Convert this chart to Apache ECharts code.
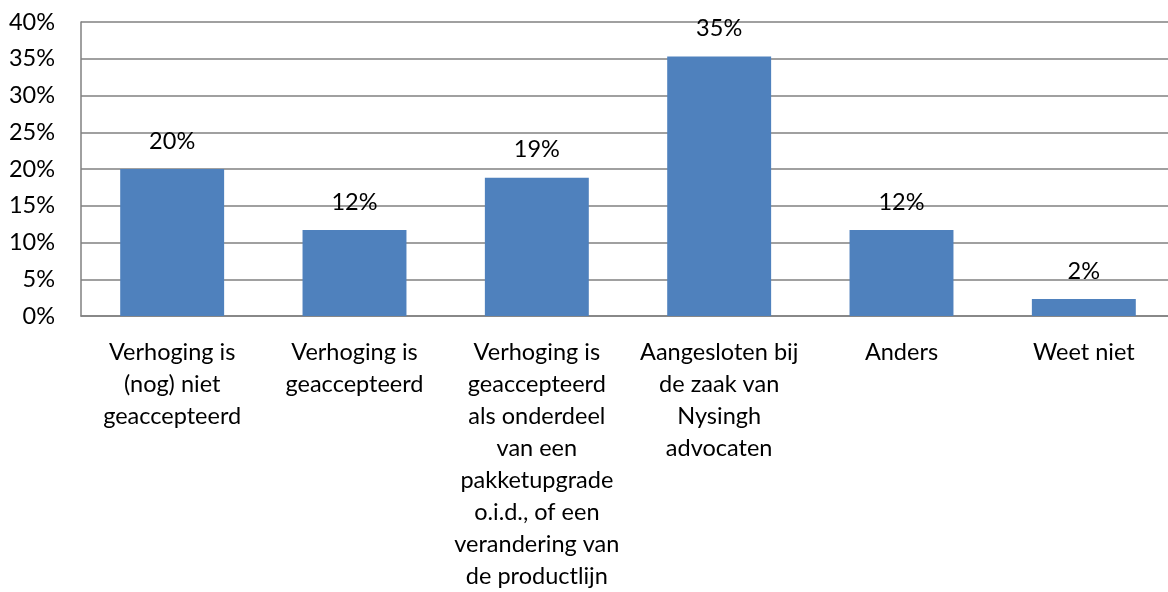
<!DOCTYPE html>
<html>
<head>
<meta charset="utf-8">
<script src="https://cdn.jsdelivr.net/npm/echarts@6/dist/echarts.min.js"></script>
<style>
  html, body { margin: 0; padding: 0; background: #fff; }
  #chart { width: 1168px; height: 592px; }
</style>
</head>
<body>
<div id="chart"></div>
<script>
// categorie labels (regels afgebroken zoals in de grafiek)
const categories = [
  'Verhoging is\n(nog) niet\ngeaccepteerd',
  'Verhoging is\ngeaccepteerd',
  'Verhoging is\ngeaccepteerd\nals onderdeel\nvan een\npakketupgrade\no.i.d., of een\nverandering van\nde productlijn',
  'Aangesloten bij\nde zaak van\nNysingh\nadvocaten',
  'Anders',
  'Weet niet'
];
// percentages
const values = [20.0, 11.7, 18.8, 35.3, 11.7, 2.3];
const yTicks = { min: 0, max: 40, interval: 5 };

const font = 'Lato, "Open Sans", sans-serif';
const chart = echarts.init(document.getElementById('chart'));

const option = {
  animation: false,
  // plot area loopt rechts iets buiten het beeld, zoals in het origineel
  grid: { left: 81, top: 22, width: 1094, height: 294, outerBoundsMode: 'none' },
  xAxis: {
    type: 'category',
    data: categories,
    axisLine: { lineStyle: { color: '#808080', width: 1.5 } },
    axisTick: { show: false },
    axisLabel: {
      interval: 0,
      color: '#000',
      fontFamily: font,
      fontSize: 23.5,
      lineHeight: 32,
      margin: 20
    }
  },
  yAxis: {
    type: 'value',
    min: yTicks.min,
    max: yTicks.max,
    interval: yTicks.interval,
    axisLine: { show: true, lineStyle: { color: '#808080', width: 1.5 } },
    axisTick: { show: false },
    splitLine: { lineStyle: { color: '#808080', width: 1.5 } },
    axisLabel: {
      formatter: '{value}%',
      color: '#000',
      fontFamily: font,
      fontSize: 23.5,
      margin: 26
    }
  },
  series: [{
    type: 'bar',
    data: values,
    barWidth: '57%',
    itemStyle: { color: '#4F81BD' },
    label: {
      show: true,
      position: 'top',
      distance: 16,
      color: '#000',
      fontFamily: font,
      fontSize: 23.5,
      formatter: p => Math.round(p.value) + '%'
    }
  }]
};

chart.setOption(option);
</script>
</body>
</html>
